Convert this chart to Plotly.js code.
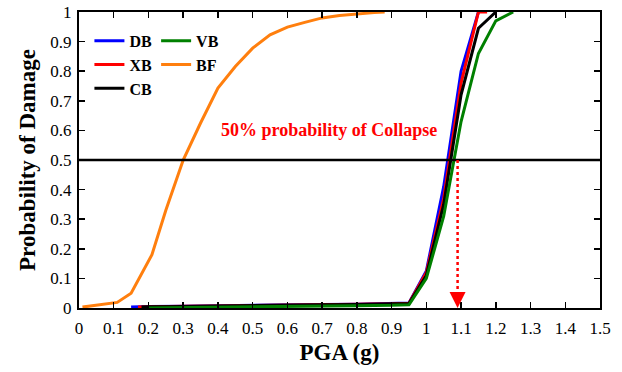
<!DOCTYPE html>
<html>
<head>
<meta charset="utf-8">
<script src="https://cdn.plot.ly/plotly-3.0.1.min.js"></script>
<style>html,body{margin:0;padding:0;background:#fff;}#chart{width:622px;height:372px;}</style>
</head>
<body>
<div id="chart"></div>
<script>
// BF (bare frame) fragility curve
const bfX = [0.01, 0.05, 0.11, 0.15, 0.21, 0.25, 0.30, 0.35, 0.40, 0.45, 0.50, 0.55, 0.60, 0.65, 0.70, 0.75, 0.80, 0.85, 0.88];
const bfY = [0.003, 0.010, 0.019, 0.050, 0.180, 0.330, 0.500, 0.625, 0.743, 0.816, 0.878, 0.923, 0.949, 0.965, 0.980, 0.988, 0.994, 0.998, 1.000];

// Braced frames
const dbX = [0.15, 0.20, 0.30, 0.40, 0.50, 0.60, 0.70, 0.80, 0.90, 0.95, 1.00, 1.05, 1.10, 1.15];
const dbY = [0.003, 0.005, 0.006, 0.008, 0.010, 0.011, 0.012, 0.013, 0.015, 0.017, 0.125, 0.410, 0.800, 1.000];

const xbX = [0.17, 0.20, 0.30, 0.40, 0.50, 0.60, 0.70, 0.80, 0.90, 0.95, 1.00, 1.05, 1.10, 1.15, 1.175];
const xbY = [0.003, 0.004, 0.006, 0.007, 0.009, 0.010, 0.011, 0.013, 0.014, 0.016, 0.120, 0.370, 0.760, 1.000, 1.000];

const cbX = [0.18, 0.20, 0.30, 0.40, 0.50, 0.60, 0.70, 0.80, 0.90, 0.95, 1.00, 1.05, 1.10, 1.15, 1.20];
const cbY = [0.003, 0.004, 0.005, 0.007, 0.008, 0.010, 0.011, 0.012, 0.014, 0.015, 0.110, 0.350, 0.720, 0.945, 1.000];

const vbX = [0.20, 0.27, 0.30, 0.40, 0.50, 0.60, 0.70, 0.80, 0.90, 0.95, 1.00, 1.05, 1.10, 1.15, 1.20, 1.25];
const vbY = [0.000, 0.001, 0.003, 0.004, 0.005, 0.006, 0.007, 0.008, 0.009, 0.011, 0.100, 0.310, 0.630, 0.860, 0.970, 1.000];

const xTicks = [0, 0.1, 0.2, 0.3, 0.4, 0.5, 0.6, 0.7, 0.8, 0.9, 1, 1.1, 1.2, 1.3, 1.4, 1.5];
const xTickText = ["0", "0.1", "0.2", "0.3", "0.4", "0.5", "0.6", "0.7", "0.8", "0.9", "1", "1.1", "1.2", "1.3", "1.4", "1.5"];
const yTicks = [0, 0.1, 0.2, 0.3, 0.4, 0.5, 0.6, 0.7, 0.8, 0.9, 1];
const yTickText = ["0", "0.1", "0.2", "0.3", "0.4", "0.5", "0.6", "0.7", "0.8", "0.9", "1"];

const collapseLevel = 0.5;
const collapsePGA = 1.09;
const noteText = "50% probability of Collapse";

const lw = 3;

function tr(name, x, y, color, legend) {
  return {x: x, y: y, name: name, type: "scatter", mode: "lines",
          line: {color: color, width: lw}, legend: legend};
}

const data = [
  tr("DB", dbX, dbY, "#0000ff", "legend"),
  tr("XB", xbX, xbY, "#ff0000", "legend"),
  tr("CB", cbX, cbY, "#000000", "legend"),
  tr("VB", vbX, vbY, "#008000", "legend2"),
  tr("BF", bfX, bfY, "#ff7f0e", "legend2")
];

const layout = {
  width: 622, height: 372,
  margin: {l: 79, r: 22, t: 12, b: 64},
  showlegend: true,
  legend: {x: 0.02, y: 0.96, xanchor: "left", yanchor: "top", bgcolor: "rgba(0,0,0,0)",
           font: {family: "Liberation Serif", size: 16, color: "black", weight: "bold"}, tracegroupgap: 0},
  legend2: {x: 0.148, y: 0.96, xanchor: "left", yanchor: "top", bgcolor: "rgba(0,0,0,0)",
            font: {family: "Liberation Serif", size: 16, color: "black", weight: "bold"}, tracegroupgap: 0},
  xaxis: {
    range: [0, 1.5], tickvals: xTicks, ticktext: xTickText,
    ticks: "inside", ticklen: 6, tickwidth: 1.5, tickcolor: "black",
    showline: true, linecolor: "black", linewidth: 2, mirror: "ticks",
    showgrid: false, zeroline: false, ticklabelstandoff: 4,
    tickfont: {family: "Liberation Serif", size: 17, color: "black"},
    title: {text: "PGA (g)", font: {family: "Liberation Serif", size: 23, color: "black", weight: "bold"}, standoff: 6}
  },
  yaxis: {
    range: [0, 1], tickvals: yTicks, ticktext: yTickText,
    ticks: "inside", ticklen: 6, tickwidth: 1.5, tickcolor: "black",
    showline: true, linecolor: "black", linewidth: 2, mirror: "ticks",
    showgrid: false, zeroline: false, ticklabelstandoff: 2,
    tickfont: {family: "Liberation Serif", size: 17, color: "black"},
    title: {text: "Probability of Damage", font: {family: "Liberation Serif", size: 23, color: "black", weight: "bold"}, standoff: 8}
  },
  shapes: [
    {type: "line", xref: "paper", x0: 0, x1: 1, yref: "y", y0: collapseLevel, y1: collapseLevel,
     line: {color: "black", width: 2.5}},
    {type: "line", xref: "x", x0: collapsePGA, x1: collapsePGA, yref: "y", y0: collapseLevel, y1: 0.03,
     line: {color: "red", width: 2.5, dash: "dot"}}
  ],
  annotations: [
    {x: 0.72, y: 0.6, xref: "x", yref: "y", text: noteText, showarrow: false,
     font: {family: "Liberation Serif", size: 18, color: "red", weight: "bold"}},
    {x: collapsePGA, y: 0, xref: "x", yref: "y", ax: 0, ay: -12, text: "", showarrow: true,
     arrowhead: 2, arrowsize: 1.6, arrowwidth: 2, arrowcolor: "red"}
  ]
};

Plotly.newPlot("chart", data, layout, {displayModeBar: false, staticPlot: true});
</script>
</body>
</html>
